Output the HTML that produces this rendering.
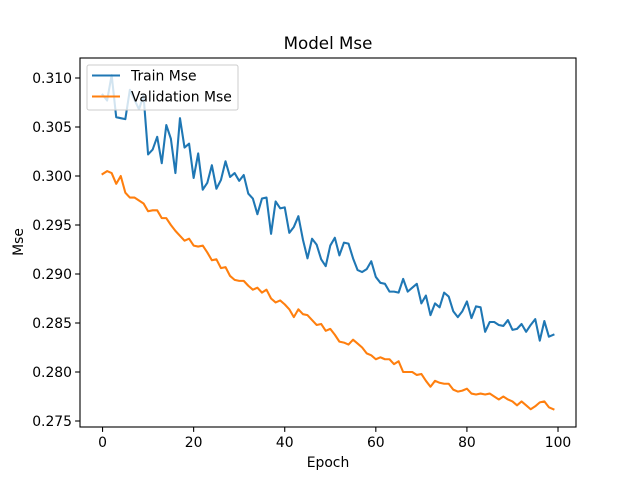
<!DOCTYPE html>
<html><head><meta charset="utf-8"><style>
body{margin:0;background:#fff}
svg text{font-family:"DejaVu Sans","Liberation Sans",sans-serif;fill:#000}
</style></head><body>
<svg id="chart" width="640" height="480" xmlns="http://www.w3.org/2000/svg"></svg>
<script>
const epochs = Array.from({length:100},(_,i)=>i);
const trainMse = [0.3083,0.3077,0.3103,0.3060,0.3059,0.3058,0.3088,0.3078,0.3068,0.3082,
0.3022,0.3027,0.3040,0.3013,0.3052,0.3038,0.3003,0.3059,0.3029,0.3033,
0.2998,0.3023,0.2986,0.2993,0.3011,0.2987,0.2996,0.3015,0.2999,0.3003,
0.2995,0.3001,0.2982,0.2977,0.2961,0.2977,0.2978,0.2941,0.2974,0.2967,
0.2968,0.2942,0.2948,0.2959,0.2935,0.2916,0.2936,0.2930,0.2915,0.2908,
0.2929,0.2937,0.2919,0.2932,0.2931,0.2916,0.2904,0.2902,0.2905,0.2913,
0.2897,0.2891,0.2890,0.2882,0.2882,0.2881,0.2895,0.2882,0.2886,0.2890,
0.2870,0.2878,0.2858,0.2870,0.2866,0.2881,0.2877,0.2862,0.2856,0.2862,
0.2872,0.2855,0.2867,0.2866,0.2841,0.2851,0.2851,0.2848,0.2847,0.2853,
0.2843,0.2844,0.2849,0.2841,0.2848,0.2854,0.2832,0.2852,0.2836,0.2838];
const valMse = [0.3002,0.3005,0.3003,0.2992,0.3000,0.2983,0.2978,0.2978,0.2975,0.2972,
0.2964,0.2965,0.2965,0.2957,0.2957,0.2950,0.2944,0.2939,0.2934,0.2936,
0.2929,0.2928,0.2929,0.2922,0.2914,0.2915,0.2906,0.2907,0.2898,0.2894,
0.2893,0.2893,0.2888,0.2884,0.2886,0.2881,0.2884,0.2875,0.2871,0.2873,
0.2869,0.2864,0.2856,0.2864,0.2859,0.2858,0.2853,0.2848,0.2849,0.2842,
0.2844,0.2838,0.2831,0.2830,0.2828,0.2833,0.2829,0.2825,0.2819,0.2817,
0.2813,0.2815,0.2813,0.2813,0.2808,0.2811,0.2800,0.2800,0.2800,0.2797,
0.2798,0.2791,0.2785,0.2791,0.2789,0.2788,0.2788,0.2782,0.2780,0.2781,
0.2783,0.2778,0.2777,0.2778,0.2777,0.2778,0.2775,0.2772,0.2775,0.2772,
0.2770,0.2766,0.2770,0.2766,0.2762,0.2765,0.2769,0.2770,0.2764,0.2762];
const xTicks = [0,20,40,60,80,100];
const yTicks = [0.275,0.280,0.285,0.290,0.295,0.300,0.305,0.310];

const L=80,R=576,T=58,B=427;
const xMin=-4.95,xMax=103.95;
const yAt310=78, pxPerUnit=9.8/0.001;
const xs=v=>L+(v-xMin)/(xMax-xMin)*(R-L);
const ys=v=>yAt310+(0.310-v)*pxPerUnit;
const svg=document.getElementById('chart');
const NS='http://www.w3.org/2000/svg';
function mk(tag,attrs,parent){const e=document.createElementNS(NS,tag);for(const k in attrs)e.setAttribute(k,attrs[k]);(parent||svg).appendChild(e);return e;}

function line(vals,color,name){
  const d=vals.map((v,i)=>(i?'L':'M')+xs(epochs[i]).toFixed(2)+' '+ys(v).toFixed(2)).join(' ');
  const p=mk('path',{d:d,fill:'none',stroke:color,'stroke-width':2.08,'stroke-linejoin':'round','stroke-linecap':'square'});
  
  
}
line(trainMse,'#1f77b4','train-mse-line');
line(valMse,'#ff7f0e','validation-mse-line');

const frame=mk('rect',{x:L,y:T,width:R-L,height:B-T,fill:'none',stroke:'#000','stroke-width':1.1});



xTicks.forEach(t=>{
  const x=xs(t);
  mk('line',{x1:x,x2:x,y1:B,y2:B+4.9,stroke:'#000','stroke-width':1.1});
  const tx=mk('text',{x:x,y:B+20,'text-anchor':'middle','font-size':13.9});
  tx.textContent=t;
  
  
});
yTicks.forEach(t=>{
  const y=ys(t);
  mk('line',{x1:L-4.9,x2:L,y1:y,y2:y,stroke:'#000','stroke-width':1.1});
  const tx=mk('text',{x:L-8,y:y+5,'text-anchor':'end','font-size':13.9});
  tx.textContent=t.toFixed(3);
  
  
});
</script>
<svg style="position:absolute;left:0;top:0" width="640" height="480" xmlns="http://www.w3.org/2000/svg">
<text x="328" y="49" text-anchor="middle" font-size="16.7">Model Mse</text>
<text x="328" y="467" text-anchor="middle" font-size="13.9">Epoch</text>
<text x="0" y="0" text-anchor="middle" font-size="13.9" transform="translate(23,242) rotate(-90)">Mse</text>
<g>
<rect x="87" y="65" width="151" height="45" rx="2" fill="#fff" fill-opacity="0.8" stroke="#ccc" stroke-width="1"/>
<line x1="92" x2="120" y1="75.5" y2="75.5" stroke="#1f77b4" stroke-width="2.08"/>
<text x="131" y="80.5" font-size="13.9">Train Mse</text>
<line x1="92" x2="120" y1="96.5" y2="96.5" stroke="#ff7f0e" stroke-width="2.08"/>
<text x="131" y="101.5" font-size="13.9">Validation Mse</text>
</g>
</svg>
</body></html>
